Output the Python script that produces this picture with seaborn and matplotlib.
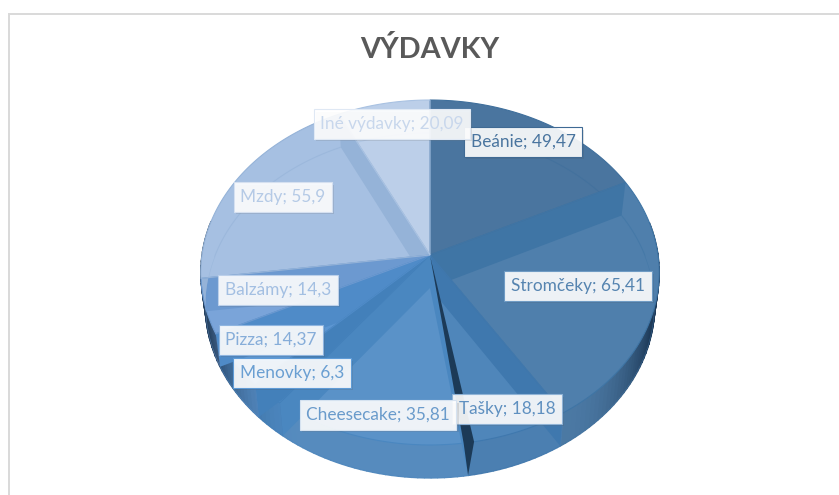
import numpy as np
import matplotlib
matplotlib.use('Agg')
import matplotlib.pyplot as plt
import matplotlib.patheffects as pe
from matplotlib.patches import Polygon, Rectangle
import seaborn as sns

# data
categories = ['Beánie', 'Stromčeky', 'Tašky', 'Cheesecake', 'Menovky', 'Pizza', 'Balzámy', 'Mzdy', 'Iné výdavky']
values = [49.47, 65.41, 18.18, 35.81, 6.3, 14.37, 14.3, 55.9, 20.09]
value_labels = ['49,47', '65,41', '18,18', '35,81', '6,3', '14,37', '14,3', '55,9', '20,09']
title = 'VÝDAVKY'

# looks
slice_colors = ['#4a759f', '#4f7fac', '#4f86ba', '#5a92c8', '#4f8dc8', '#5c96d2', '#7aa4d9', '#a6c0e2', '#bccfe9']
wall_colors = ['#3f6f9c', '#3f75a5', '#3f78ae', '#4a87c0', '#4380ba', '#4f8bc8', '#6c99d0', '#95b3d8', '#a9c2e2']
text_colors = ['#4a759f', '#5584b0', '#5f90c0', '#6a9bcb', '#6a9fd2', '#86add9', '#a3bfe2', '#b5cae6', '#c8d7ec']
border_colors = ['#3f6a94', '#6f9bc4', '#8fb3d6', '#d5e2f0', '#5f9bd6', '#8fb5e0', '#bcd0ea', '#d5e0f0', '#dfe8f4']
label_xy = [(523, 142), (578, 286), (507, 409), (378, 415), (292, 373), (271, 340), (278, 290), (283, 197), (392, 124)]

sns.set_theme(style='white')
plt.rcParams['font.family'] = ['Lato', 'DejaVu Sans']
palette = sns.color_palette(slice_colors)
walls = sns.color_palette(wall_colors)

# pie geometry on screen
CX, CY = 430, 255
A, B, K = 228, 170.7, 0.1014
DEPTH = 33
NAVY = np.array([0.09, 0.19, 0.30])


def top(theta):
    u, v = np.cos(np.radians(theta)), np.sin(np.radians(theta))
    w = 1 + K * v
    return np.column_stack([CX + A * u / w, CY - B * v / w])


def low(pts):
    pts = np.atleast_2d(pts)
    return np.column_stack([CX + 0.98 * (pts[:, 0] - CX), pts[:, 1] + DEPTH])


fig = plt.figure(figsize=(8.39, 4.95), dpi=100)
ax = fig.add_axes([0, 0, 1, 1])
wedges, _ = ax.pie(values, startangle=90, counterclock=False)
angles = [(w.theta1, w.theta2) for w in wedges]
for w in wedges:
    w.remove()
ax.set_aspect('auto')
ax.set_xlim(0, 839)
ax.set_ylim(495, 0)
ax.axis('off')

# chart frame
ax.add_patch(Rectangle((8.5, 13.5), 840, 500, fc='white', ec='#d9d9d9', lw=1.4, zorder=0))
ax.text(430, 50, title, ha='center', va='center', fontsize=20.8, fontweight='bold', color='#595959')

# side wall, in thin strips so the shade can follow the angle
for (t1, t2), col in zip(angles, palette):
    th = np.arange(t1, t2 + 1.5, 1.5)
    th[-1] = t2
    for a, b in zip(th[:-1], th[1:]):
        if np.sin(np.radians((a + b) / 2)) > 0.2:
            continue
        p = top(np.array([a, b]))
        q = low(p)
        e = abs(np.cos(np.radians((a + b) / 2)))
        t = np.clip((e - 0.55) / 0.4, 0, 1) ** 2 * 0.85
        c = (1 - t) * np.array(col) * 0.95 + t * NAVY
        ax.add_patch(Polygon([p[0], p[1], q[1], q[0]], fc=c, ec=c, lw=1.0, zorder=1))

# top faces with the inner walls seen through them
apex = np.array([[CX, CY]])
for i, ((t1, t2), col) in enumerate(zip(angles, palette)):
    th = np.linspace(t1, t2, 60)
    rim = top(th)
    ax.add_patch(Polygon(np.vstack([apex, rim]), fc=col, ec='none', zorder=2))
    front = np.where(np.sin(np.radians(th))[:, None] < 0.2, low(rim), rim)
    outer = np.vstack([apex, rim[:1], front, rim[-1:]])
    clip = Polygon(outer, transform=ax.transData)
    for t in (t1, t2):
        r = top(np.array([t]))
        wall = Polygon(np.vstack([apex, r, low(r), low(apex)]), fc=walls[i], ec='none', zorder=3)
        ax.add_patch(wall)
        wall.set_clip_path(clip)
    # faint far rim seen through the top
    arc = low(rim)
    line, = ax.plot(arc[:, 0], arc[:, 1], color=walls[i], lw=0.8, alpha=0.6, zorder=3)
    line.set_clip_path(clip)
    ax.add_patch(Polygon(np.vstack([apex, rim]), fc='none', ec=walls[i], lw=0.8, zorder=4))

# dark gap between Tašky and Cheesecake
gap = angles[2][0]
g = top(np.array([gap - 1.2, gap, gap + 1.2]))
ax.add_patch(Polygon(np.vstack([apex, g[0], low(g[1]), g[2]]), fc='#1c3a57', ec='none', zorder=5))

# data labels
for name, val, xy, tc, bc in zip(categories, value_labels, label_xy, text_colors, border_colors):
    t = ax.text(xy[0], xy[1], f'{name}; {val}', ha='center', va='center', fontsize=12.4, color=tc, zorder=6,
                bbox=dict(boxstyle='square,pad=0.38', fc=(1, 1, 1, 0.9), ec=bc, lw=0.8))
    t.get_bbox_patch().set_path_effects([pe.SimplePatchShadow(offset=(1.5, -1.5), alpha=0.15), pe.Normal()])

fig.savefig('out.png', dpi=100)
